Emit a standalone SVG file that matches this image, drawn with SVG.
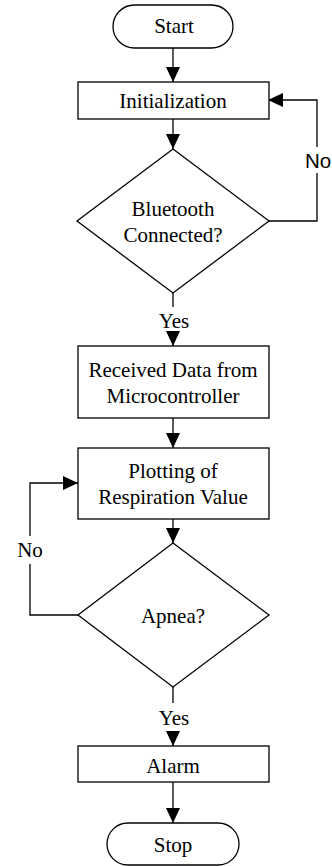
<svg xmlns="http://www.w3.org/2000/svg" width="332" height="866" viewBox="0 0 332 866">
<style>
.s{fill:#fff;stroke:#000;stroke-width:1.3}
.c{fill:none;stroke:#000;stroke-width:1.3}
.t{font-family:"Liberation Serif","Times New Roman",serif;font-size:21px;fill:#000;text-anchor:middle}
.a{font-family:"Liberation Sans",Arial,sans-serif;font-size:20.5px;fill:#000;text-anchor:middle}
</style>
<defs>
<marker id="ah" markerUnits="userSpaceOnUse" markerWidth="15" markerHeight="14" refX="15" refY="7" orient="auto">
<path d="M0,0 L15,7 L0,14 z" fill="#000"/>
</marker>
</defs>
<rect width="332" height="866" fill="#fff"/>
<g id="connectors">
<path class="c" d="M173,48 V82" marker-end="url(#ah)"/>
<path class="c" d="M173,119 V149" marker-end="url(#ah)"/>
<path class="c" d="M269,221 H317 V173"/>
<path class="c" d="M317,147 V100 H268" marker-end="url(#ah)"/>
<path class="c" d="M173,293 V307"/>
<path class="c" d="M173,332 V346" marker-end="url(#ah)"/>
<path class="c" d="M173,418 V448" marker-end="url(#ah)"/>
<path class="c" d="M173,519 V543" marker-end="url(#ah)"/>
<path class="c" d="M78,615 H30 V564"/>
<path class="c" d="M30,536 V483 H78" marker-end="url(#ah)"/>
<path class="c" d="M173,687 V703"/>
<path class="c" d="M173,731 V746" marker-end="url(#ah)"/>
<path class="c" d="M173,782 V823" marker-end="url(#ah)"/>
<text class="a" x="318" y="168">No</text>
<text class="t" x="174" y="328">Yes</text>
<text class="t" x="30" y="557">No</text>
<text class="t" x="174" y="725">Yes</text>
</g>
<g id="start">
<rect class="s" x="113" y="5" width="120" height="43" rx="21.5"/>
<text class="t" x="174" y="33">Start</text>
</g>
<g id="init">
<rect class="s" x="78" y="82" width="191" height="37"/>
<text class="t" x="173" y="108">Initialization</text>
</g>
<g id="bt">
<polygon class="s" points="173,149 269,221 173,293 77,221"/>
<text class="t" x="173" y="216">Bluetooth</text>
<text class="t" x="173" y="242">Connected?</text>
</g>
<g id="recv">
<rect class="s" x="78" y="346" width="191" height="72"/>
<text class="t" x="173" y="377">Received Data from</text>
<text class="t" x="173" y="403">Microcontroller</text>
</g>
<g id="plot">
<rect class="s" x="78" y="448" width="191" height="71"/>
<text class="t" x="173" y="478">Plotting of</text>
<text class="t" x="173" y="504">Respiration Value</text>
</g>
<g id="apnea">
<polygon class="s" points="173,543 269,615 173,687 78,615"/>
<text class="t" x="173" y="623">Apnea?</text>
</g>
<g id="alarm">
<rect class="s" x="78" y="746" width="191" height="36"/>
<text class="t" x="173" y="773">Alarm</text>
</g>
<g id="stop">
<rect class="s" x="107" y="823" width="132" height="42" rx="21"/>
<text class="t" x="173" y="852">Stop</text>
</g>
</svg>
